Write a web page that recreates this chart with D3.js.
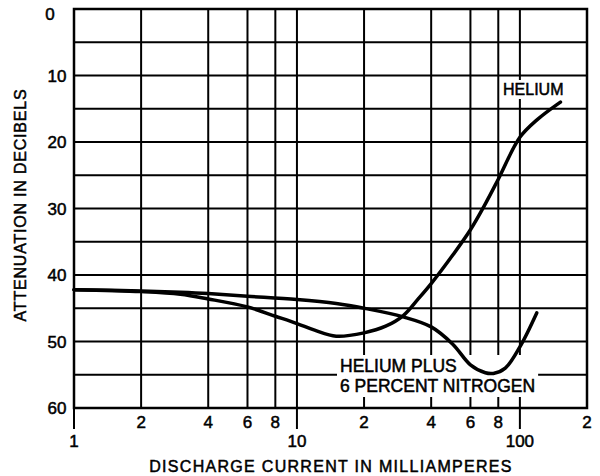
<!DOCTYPE html>
<html lang="en">
<head>
<meta charset="UTF-8">
<title>Attenuation vs discharge current</title>
<script src="https://d3js.org/d3.v7.min.js"></script>
<style>
    body { margin: 0; background: #fff; }
    svg { display: block; }
    text { font-family: "Liberation Sans", Arial, sans-serif; fill: #000; stroke: #000; stroke-width: 0.5px; }
</style>
</head>
<body>
<div id="chart"></div>
<script>
// x: discharge current (mA, log), y: attenuation (dB, downward)
var helium = [
    [1, 42.2], [2, 42.5], [3, 42.9], [4, 43.6], [6, 44.8], [8, 46.2], [10, 47.3],
    [12, 48.3], [15, 49.2], [20, 48.7], [25, 47.7], [30, 46.1], [35, 43.6],
    [40, 41.3], [50, 37.0], [60, 33.2], [70, 29.3], [80, 25.6], [100, 19.3],
    [120, 16.6], [152, 14]
];
var heliumNitrogen = [
    [1, 42.2], [2, 42.4], [3, 42.6], [4, 42.8], [6, 43.2], [10, 43.7], [15, 44.3],
    [20, 45], [30, 46.3], [40, 47.8], [50, 50.4], [60, 53.5], [70, 54.7],
    [76, 54.8], [86, 54.0], [100, 50.8], [119, 45.7]
];
var xGrid = [1, 2, 4, 6, 8, 10, 20, 40, 60, 80, 100, 200];
var xMinorLabels = [[2, "2"], [4, "4"], [6, "6"], [8, "8"], [20, "2"], [40, "4"], [60, "6"], [80, "8"], [200, "2"]];
var xMajorLabels = [[1, "1"], [10, "10"], [100, "100"]];
var yGrid = [0, 5, 10, 15, 20, 25, 30, 35, 40, 45, 50, 55, 60];
var yLabels = [0, 10, 20, 30, 40, 50, 60];

var width = 600, height = 476;
var svg = d3.select("#chart").append("svg")
    .attr("width", width)
    .attr("height", height);

var x = d3.scaleLog().domain([1, 200]).range([74, 587]);
var y = d3.scaleLinear().domain([0, 60]).range([9, 408]);

// grid
svg.append("g").selectAll("line").data(yGrid).enter().append("line")
    .attr("x1", x(1)).attr("x2", x(200))
    .attr("y1", function(d) { return y(d); })
    .attr("y2", function(d) { return y(d); })
    .attr("stroke", "#000").attr("stroke-width", 2);

svg.append("g").selectAll("line").data(xGrid).enter().append("line")
    .attr("x1", function(d) { return x(d); })
    .attr("x2", function(d) { return x(d); })
    .attr("y1", y(0)).attr("y2", y(60))
    .attr("stroke", "#000").attr("stroke-width", 2);

// long ticks under 1, 10, 100
svg.append("g").selectAll("line").data(xMajorLabels).enter().append("line")
    .attr("x1", function(d) { return x(d[0]); })
    .attr("x2", function(d) { return x(d[0]); })
    .attr("y1", y(60)).attr("y2", y(60) + 21)
    .attr("stroke", "#000").attr("stroke-width", 2);

// frame
svg.append("rect")
    .attr("x", x(1)).attr("y", y(0))
    .attr("width", x(200) - x(1)).attr("height", y(60) - y(0))
    .attr("fill", "none").attr("stroke", "#000").attr("stroke-width", 2.5);

// tick labels
svg.append("g").selectAll("text").data(xMinorLabels).enter().append("text")
    .attr("x", function(d) { return x(d[0]); })
    .attr("y", 428)
    .attr("text-anchor", "middle")
    .attr("font-size", 17)
    .text(function(d) { return d[1]; });

svg.append("g").selectAll("text").data(xMajorLabels).enter().append("text")
    .attr("x", function(d) { return x(d[0]); })
    .attr("y", 447)
    .attr("text-anchor", "middle")
    .attr("font-size", 17)
    .text(function(d) { return d[1]; });

svg.append("g").selectAll("text").data(yLabels).enter().append("text")
    .attr("x", function(d) { return d === 0 ? 50 : 57; })
    .attr("y", function(d) { return Math.max(y(d) + 6, 20); })
    .attr("text-anchor", "middle")
    .attr("font-size", 17)
    .text(function(d) { return d; });

// axis titles
svg.append("text")
    .attr("x", 331).attr("y", 472)
    .attr("text-anchor", "middle")
    .attr("font-size", 16)
    .attr("letter-spacing", 1.3)
    .text("DISCHARGE CURRENT IN MILLIAMPERES");

svg.append("text")
    .attr("transform", "translate(26,205) rotate(-90)")
    .attr("text-anchor", "middle")
    .attr("font-size", 16)
    .attr("letter-spacing", 0.8)
    .text("ATTENUATION IN DECIBELS");

// curve labels with white backing
function label(lines, x0, y0, size, lh) {
    var g = svg.append("g");
    var bg = g.append("rect").attr("fill", "#fff");
    var t = g.append("text").attr("font-size", size);
    lines.forEach(function(s, i) {
        t.append("tspan").attr("x", x0).attr("y", y0 + i * lh).text(s);
    });
    var b = t.node().getBBox();
    bg.attr("x", b.x - 3).attr("y", b.y - 1).attr("width", b.width + 6).attr("height", b.height + 2);
}
label(["HELIUM"], 503, 95, 16, 0);
label(["HELIUM PLUS", "6 PERCENT NITROGEN"], 340, 372, 17.5, 20);

// curves
var line = d3.line()
    .x(function(d) { return x(d[0]); })
    .y(function(d) { return y(d[1]); })
    .curve(d3.curveCatmullRom.alpha(0.5));

[helium, heliumNitrogen].forEach(function(s) {
    svg.append("path")
        .attr("d", line(s))
        .attr("fill", "none")
        .attr("stroke", "#000")
        .attr("stroke-width", 3.5)
        .attr("stroke-linecap", "round");
});
</script>
</body>
</html>
